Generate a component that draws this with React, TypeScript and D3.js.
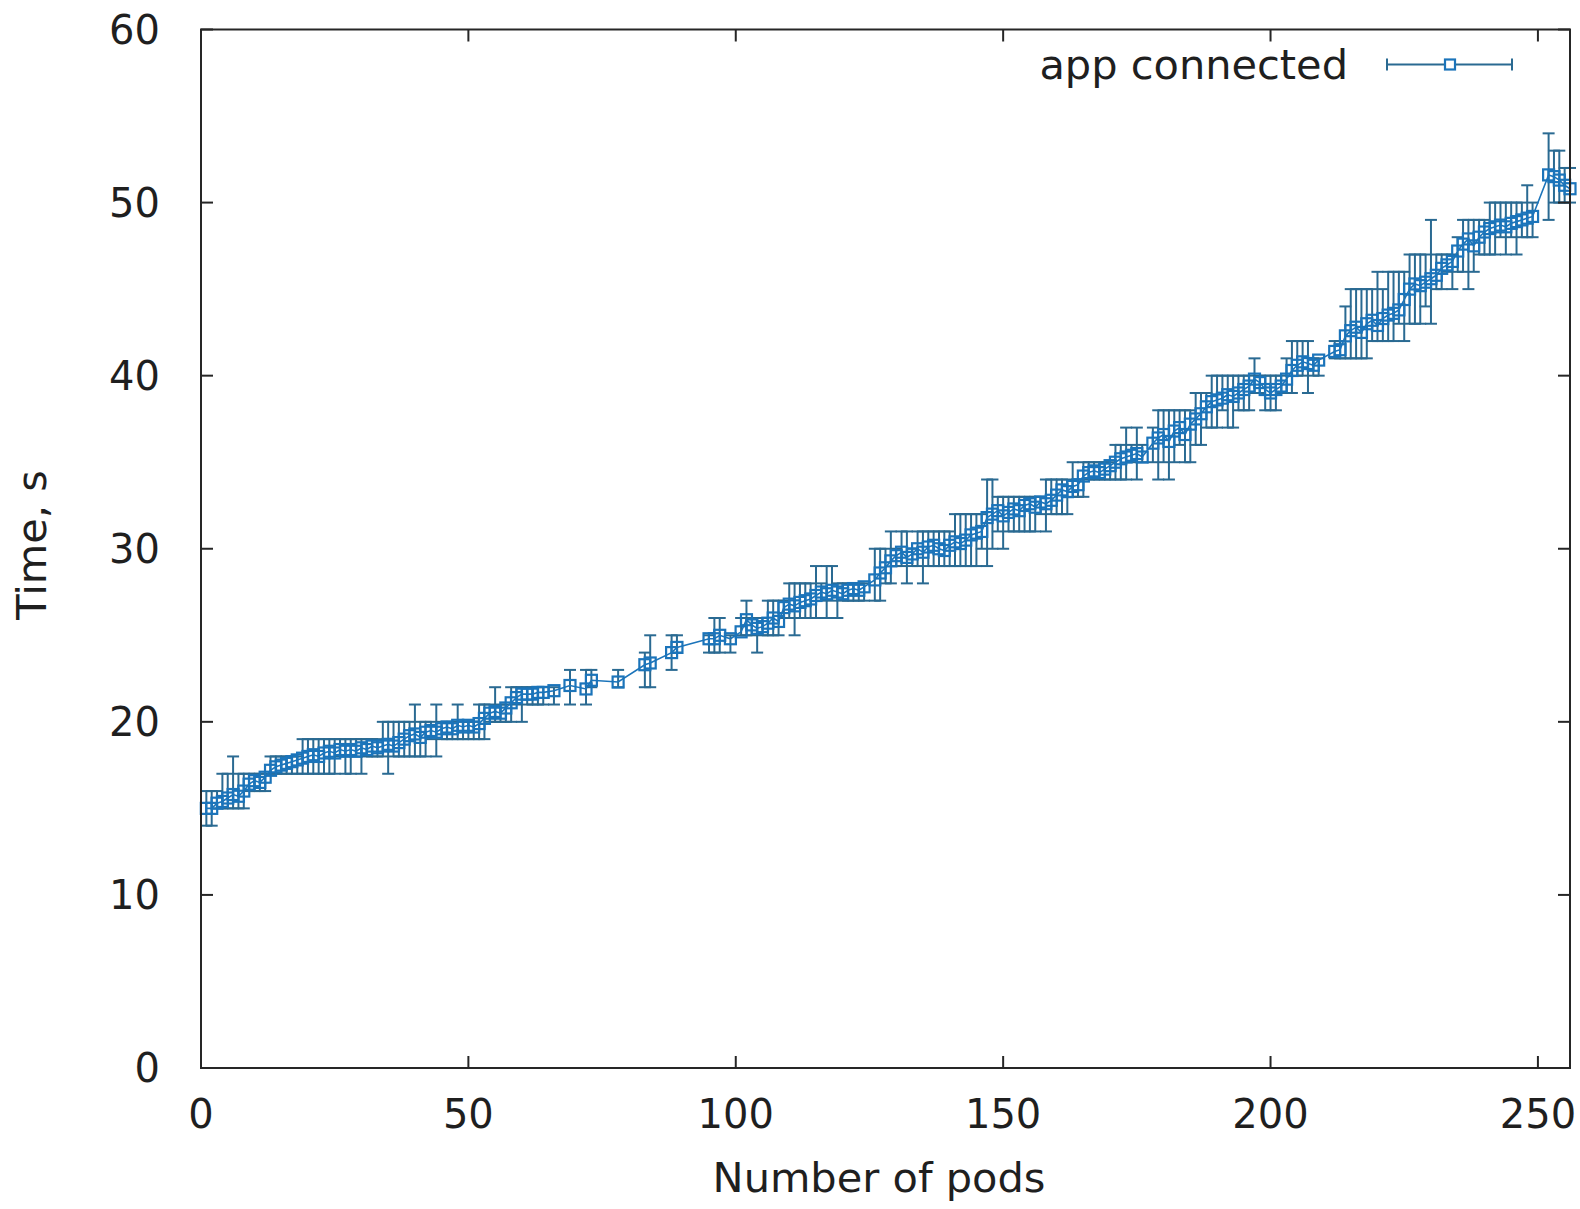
import React, { useEffect, useRef } from "react";
import * as d3 from "d3";

// pods, mean time, min and max (s)
const pods = [
  1, 2, 3, 4, 5, 6, 7, 8, 9, 10, 11, 12, 13, 14, 15, 16, 17, 18, 19, 20,
  21, 22, 23, 24, 25, 26, 27, 28, 29, 30, 31, 32, 33, 34, 35, 36, 37, 38, 39, 40,
  41, 42, 43, 44, 45, 46, 47, 48, 49, 50, 51, 52, 53, 54, 55, 56, 57, 58, 59, 60,
  61, 62, 63, 64, 66, 69, 72, 73, 78, 83, 84, 88, 89, 95, 96, 97, 99, 101, 102,
  103, 104, 105, 106, 107, 108, 109, 110, 111, 112, 113, 114, 115, 116, 117, 118, 119, 120,
  121, 122, 123, 124, 126, 127, 128, 129, 130, 131, 132, 133, 134, 135, 136, 137, 138, 139, 140,
  141, 142, 143, 144, 145, 146, 147, 148, 149, 150, 151, 152, 153, 154, 155, 156, 157, 158, 159, 160,
  161, 162, 163, 164, 165, 166, 167, 168, 169, 170, 171, 172, 173, 174, 175, 176, 178, 179, 180,
  181, 182, 183, 184, 185, 186, 187, 188, 189, 190, 191, 192, 193, 194, 195, 196, 197, 198, 199, 200,
  201, 202, 203, 204, 205, 206, 207, 208, 209, 212, 213, 214, 215, 216, 217, 218, 219, 220,
  221, 222, 223, 224, 225, 226, 227, 228, 229, 230, 231, 232, 233, 234, 235, 236, 237, 238, 239, 240,
  241, 242, 243, 244, 245, 246, 247, 248, 249, 252, 253, 254, 255, 256,
];

const meanTime = [
  15.0, 15.0, 15.3, 15.4, 15.6, 15.8, 15.7, 16.0, 16.4, 16.6, 16.5, 16.8, 17.2, 17.4, 17.5, 17.6, 17.7, 17.8, 17.9, 18.0,
  18.1, 18.0, 18.2, 18.3, 18.2, 18.4, 18.3, 18.4, 18.3, 18.5, 18.4, 18.6, 18.5, 18.6, 18.7, 18.6, 18.8, 19.0, 19.2, 19.3,
  19.1, 19.4, 19.5, 19.4, 19.6, 19.7, 19.6, 19.8, 19.7, 19.8, 19.7, 19.9, 20.2, 20.5, 20.6, 20.5, 20.8, 21.1, 21.4, 21.6,
  21.6, 21.6, 21.7, 21.7, 21.8, 22.1, 21.9, 22.4, 22.3, 23.3, 23.4, 24.0, 24.3, 24.8, 24.8, 25.0, 24.8, 25.2, 25.9,
  25.6, 25.4, 25.5, 25.7, 26.0, 25.8, 26.6, 26.8, 26.7, 26.9, 27.0, 27.1, 27.3, 27.5, 27.4, 27.6, 27.5, 27.4,
  27.6, 27.7, 27.6, 27.8, 28.2, 28.6, 28.9, 29.3, 29.6, 29.8, 29.5, 29.7, 30.0, 29.8, 30.1, 30.2, 30.0, 29.9, 30.2,
  30.4, 30.3, 30.5, 30.8, 30.9, 31.0, 31.8, 32.0, 32.2, 31.9, 32.1, 32.3, 32.2, 32.5, 32.6, 32.4, 32.7, 32.6, 32.8, 33.1,
  33.4, 33.3, 33.6, 33.7, 34.2, 34.4, 34.5, 34.4, 34.6, 34.8, 35.0, 35.2, 35.3, 35.4, 35.5, 35.3, 36.1, 36.4, 36.6,
  36.2, 36.8, 37.0, 36.6, 37.2, 37.5, 37.8, 38.2, 38.5, 38.6, 38.7, 38.9, 38.8, 39.0, 39.2, 39.4, 39.8, 39.6, 39.2, 39.0,
  39.2, 39.4, 39.8, 40.3, 40.6, 40.8, 40.7, 40.6, 40.9, 41.4, 41.5, 42.3, 42.6, 42.8, 42.5, 43.0, 43.2, 42.9,
  43.3, 43.5, 43.6, 43.8, 44.4, 45.0, 45.3, 45.2, 45.4, 45.6, 45.8, 46.2, 46.4, 46.6, 47.2, 47.6, 47.9, 47.5, 48.0, 48.3,
  48.5, 48.6, 48.7, 48.6, 48.8, 48.9, 49.0, 49.1, 49.2, 51.6, 51.5, 51.3, 51.0, 50.8,
];

const minTime = [
  14, 14, 15, 15, 15, 15, 15, 15, 16, 16, 16, 16, 17, 17, 17, 17, 17, 17, 17, 17,
  17, 17, 17, 17, 17, 18, 17, 17, 18, 17, 18, 18, 18, 18, 17, 18, 18, 18, 18, 18,
  18, 18, 19, 18, 19, 19, 19, 19, 19, 19, 19, 19, 19, 20, 20, 20, 20, 20, 21, 20,
  21, 21, 21, 21, 21, 21, 21, 22, 22, 22, 22, 23, 24, 24, 24, 24, 24, 25, 25,
  25, 24, 25, 25, 25, 25, 26, 26, 25, 26, 26, 26, 26, 27, 26, 27, 26, 27,
  27, 27, 27, 27, 27, 27, 28, 28, 29, 29, 28, 29, 29, 28, 29, 29, 29, 29, 29,
  29, 29, 29, 29, 29, 30, 29, 30, 31, 30, 31, 31, 31, 31, 31, 31, 32, 31, 32, 32,
  32, 32, 33, 33, 33, 34, 34, 34, 34, 34, 34, 34, 34, 35, 34, 35, 35, 34, 35,
  34, 35, 36, 35, 35, 36, 36, 37, 37, 37, 38, 37, 37, 38, 38, 38, 39, 39, 38, 38,
  38, 39, 39, 39, 40, 40, 39, 40, 40, 41, 41, 41, 41, 41, 41, 41, 42, 42,
  42, 42, 42, 43, 42, 43, 43, 43, 44, 43, 45, 45, 46, 45, 46, 46, 45, 46, 47, 47,
  47, 47, 48, 47, 48, 47, 48, 48, 48, 49, 50, 50, 50, 50,
];

const maxTime = [
  16, 16, 16, 17, 17, 18, 17, 17, 17, 17, 17, 17, 18, 18, 18, 18, 18, 18, 19, 19,
  19, 19, 19, 19, 19, 19, 19, 19, 19, 19, 19, 19, 19, 20, 20, 20, 20, 20, 20, 21,
  20, 20, 20, 21, 20, 20, 20, 21, 20, 20, 20, 21, 21, 21, 22, 21, 21, 22, 22, 22,
  22, 22, 22, 22, 22, 23, 23, 23, 23, 24, 25, 25, 25, 25, 26, 26, 25, 26, 27,
  26, 26, 26, 27, 27, 27, 27, 28, 28, 28, 28, 28, 29, 28, 29, 29, 28, 28,
  28, 28, 28, 28, 30, 30, 30, 31, 30, 31, 31, 30, 31, 31, 31, 31, 31, 31, 31,
  32, 32, 32, 32, 32, 32, 34, 34, 33, 33, 33, 33, 33, 33, 33, 33, 33, 34, 34, 34,
  34, 34, 35, 34, 35, 35, 35, 35, 35, 35, 36, 36, 37, 36, 37, 36, 37, 38, 38,
  38, 38, 38, 38, 38, 39, 39, 39, 40, 40, 40, 40, 40, 40, 40, 40, 41, 40, 40, 40,
  40, 40, 41, 42, 42, 42, 42, 41, 41, 42, 42, 44, 45, 45, 45, 45, 45, 46,
  45, 46, 46, 46, 46, 47, 47, 47, 47, 49, 47, 47, 47, 47, 48, 49, 49, 49, 49, 49,
  50, 50, 50, 50, 50, 50, 50, 51, 50, 54, 53, 53, 52, 52,
];

const xTicks = [0, 50, 100, 150, 200, 250];
const yTicks = [0, 10, 20, 30, 40, 50, 60];

const App = () => {
  const ref = useRef<SVGSVGElement>(null);

  const width = 1580;
  const height = 1209;
  const m = { left: 201, right: 1570, top: 29.5, bottom: 1068 };
  const font = "'DejaVu Sans', sans-serif";
  const pointColor = "#1b74ba";
  const barColor = "#2a6a92";
  const axisColor = "#262626";

  useEffect(() => {
    if (!ref.current) return;
    const svg = d3.select(ref.current);
    svg.selectAll("*").remove();

    const x = d3.scaleLinear().domain([0, 256]).range([m.left, m.right]);
    const y = d3.scaleLinear().domain([0, 60]).range([m.bottom, m.top]);

    svg.append("rect").attr("width", width).attr("height", height).attr("fill", "#fff");

    const data = pods.map((p, i) => ({ p, mean: meanTime[i], lo: minTime[i], hi: maxTime[i] }));

    // error bars
    const eb = svg.append("g").attr("stroke", barColor).attr("stroke-width", 2);
    data.forEach((d) => {
      const cx = x(d.p);
      eb.append("line").attr("x1", cx).attr("x2", cx).attr("y1", y(d.lo)).attr("y2", y(d.hi));
      eb.append("line").attr("x1", cx - 6).attr("x2", cx + 6).attr("y1", y(d.lo)).attr("y2", y(d.lo));
      eb.append("line").attr("x1", cx - 6).attr("x2", cx + 6).attr("y1", y(d.hi)).attr("y2", y(d.hi));
    });

    // connecting line
    const line = d3
      .line<{ p: number; mean: number }>()
      .x((d) => x(d.p))
      .y((d) => y(d.mean));
    svg
      .append("path")
      .datum(data)
      .attr("d", line)
      .attr("fill", "none")
      .attr("stroke", pointColor)
      .attr("stroke-width", 1.6);

    // open square markers
    svg
      .append("g")
      .selectAll("rect")
      .data(data)
      .join("rect")
      .attr("x", (d) => x(d.p) - 5.5)
      .attr("y", (d) => y(d.mean) - 5.5)
      .attr("width", 11)
      .attr("height", 11)
      .attr("fill", "none")
      .attr("stroke", pointColor)
      .attr("stroke-width", 2.2);

    // border + ticks (mirrored, inward)
    const ax = svg.append("g").attr("stroke", axisColor).attr("stroke-width", 2).attr("fill", "none");
    ax.append("rect")
      .attr("x", m.left)
      .attr("y", m.top)
      .attr("width", m.right - m.left)
      .attr("height", m.bottom - m.top);
    xTicks.forEach((t) => {
      ax.append("line").attr("x1", x(t)).attr("x2", x(t)).attr("y1", m.bottom).attr("y2", m.bottom - 12);
      ax.append("line").attr("x1", x(t)).attr("x2", x(t)).attr("y1", m.top).attr("y2", m.top + 12);
    });
    yTicks.forEach((t) => {
      ax.append("line").attr("x1", m.left).attr("x2", m.left + 12).attr("y1", y(t)).attr("y2", y(t));
      ax.append("line").attr("x1", m.right).attr("x2", m.right - 12).attr("y1", y(t)).attr("y2", y(t));
    });

    const txt = svg.append("g").attr("font-family", font).attr("fill", "#1f1f1f");
    xTicks.forEach((t) => {
      txt.append("text")
        .attr("x", x(t))
        .attr("y", 1128)
        .attr("font-size", 40)
        .attr("text-anchor", "middle")
        .text(t);
    });
    yTicks.forEach((t) => {
      txt.append("text")
        .attr("x", 160)
        .attr("y", y(t))
        .attr("dy", "0.36em")
        .attr("font-size", 40)
        .attr("text-anchor", "end")
        .text(t);
    });

    txt.append("text")
      .attr("x", 879)
      .attr("y", 1192)
      .attr("font-size", 41.5)
      .attr("text-anchor", "middle")
      .text("Number of pods");
    txt.append("text")
      .attr("transform", `translate(46, 545) rotate(-90)`)
      .attr("font-size", 41.5)
      .attr("text-anchor", "middle")
      .text("Time, s");

    // legend
    const ly = 64.5;
    txt.append("text")
      .attr("x", 1348)
      .attr("y", ly)
      .attr("dy", "0.36em")
      .attr("font-size", 41.5)
      .attr("text-anchor", "end")
      .text("app connected");
    const lg = svg.append("g").attr("stroke", barColor).attr("stroke-width", 2);
    lg.append("line").attr("x1", 1387).attr("x2", 1512).attr("y1", ly).attr("y2", ly);
    lg.append("line").attr("x1", 1387).attr("x2", 1387).attr("y1", ly - 6).attr("y2", ly + 6);
    lg.append("line").attr("x1", 1512).attr("x2", 1512).attr("y1", ly - 6).attr("y2", ly + 6);
    svg.append("rect")
      .attr("x", 1450 - 5)
      .attr("y", ly - 5)
      .attr("width", 10)
      .attr("height", 10)
      .attr("fill", "#fff")
      .attr("stroke", pointColor)
      .attr("stroke-width", 2.2);
  }, []);

  return (
    <div style={{ position: "absolute", left: 0, top: 0 }}>
      <svg ref={ref} width={width} height={height} style={{ display: "block" }}></svg>
    </div>
  );
};

export default App;
